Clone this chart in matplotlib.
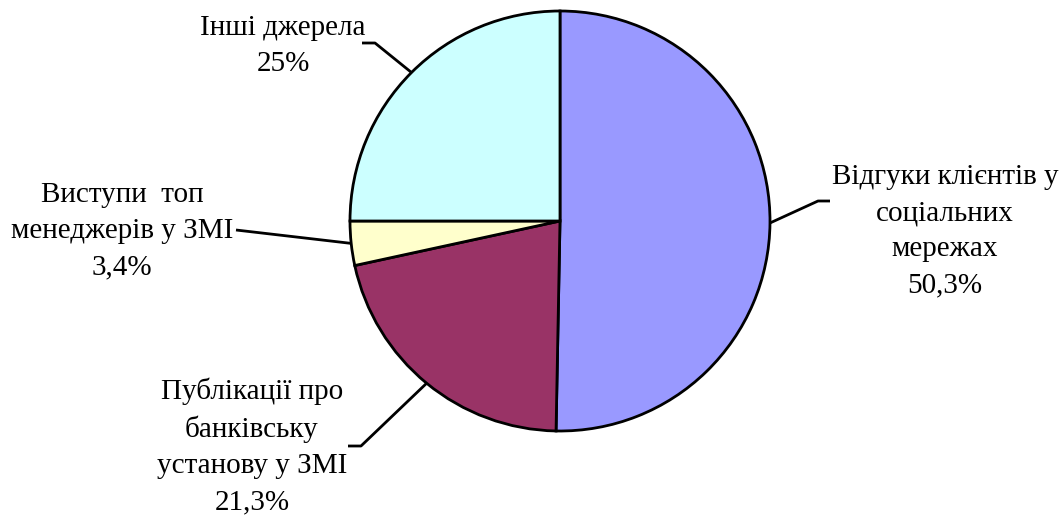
import matplotlib
matplotlib.use("Agg")
import matplotlib.pyplot as plt
import numpy as np

# Sources of information about the bank (shares, %)
labels = [
    "Відгуки клієнтів у\nсоціальних\nмережах",
    "Публікації про\nбанківську\nустанову у ЗМІ",
    "Виступи  топ\nменеджерів у ЗМІ",
    "Інші джерела",
]
shares = [50.3, 21.3, 3.4, 25.0]
share_text = ["50,3%", "21,3%", "3,4%", "25%"]
colors = ["#9999FF", "#993366", "#FFFFCC", "#CCFFFF"]

W, H = 1064, 515
fig = plt.figure(figsize=(W / 100, H / 100), dpi=100)
ax = fig.add_axes([0, 0, 1, 1])
ax.set_xlim(0, W)
ax.set_ylim(0, H)
ax.set_aspect("equal")
ax.axis("off")

cx, cy, r = 560, H - 221, 210
wedges, _ = ax.pie(
    shares, colors=colors, startangle=90, counterclock=False,
    center=(cx, cy), radius=r, frame=True,
    wedgeprops=dict(edgecolor="black", linewidth=2),
)
ax.set_xlim(0, W)
ax.set_ylim(0, H)
ax.axis("off")

plt.rcParams["font.family"] = ["Liberation Serif", "DejaVu Serif"]
fs = 21

# Label placement: text centre, elbow point, end of horizontal tick
layout = [
    dict(text=(945, 231), elbow=(818, 201), end=(830, 201)),
    dict(text=(252, 446), elbow=(361, 446), end=(348, 446)),
    dict(text=(122, 231), elbow=(236, 230), end=(236, 230)),
    dict(text=(283, 46), elbow=(375, 43), end=(362, 43)),
]

for w, lab, pct, lay in zip(wedges, labels, share_text, layout):
    ang = np.deg2rad((w.theta1 + w.theta2) / 2)
    ex, ey = cx + r * np.cos(ang), cy + r * np.sin(ang)
    bx, by = lay["elbow"]
    tx, ty = lay["end"]
    ax.plot([ex, bx, tx], [ey, H - by, H - ty], color="black", lw=2,
            solid_capstyle="butt", zorder=0)
    ax.text(lay["text"][0], H - lay["text"][1], f"{lab}\n{pct}",
            ha="center", va="center", fontsize=fs, linespacing=1.5)

fig.savefig("out.png", dpi=100)
